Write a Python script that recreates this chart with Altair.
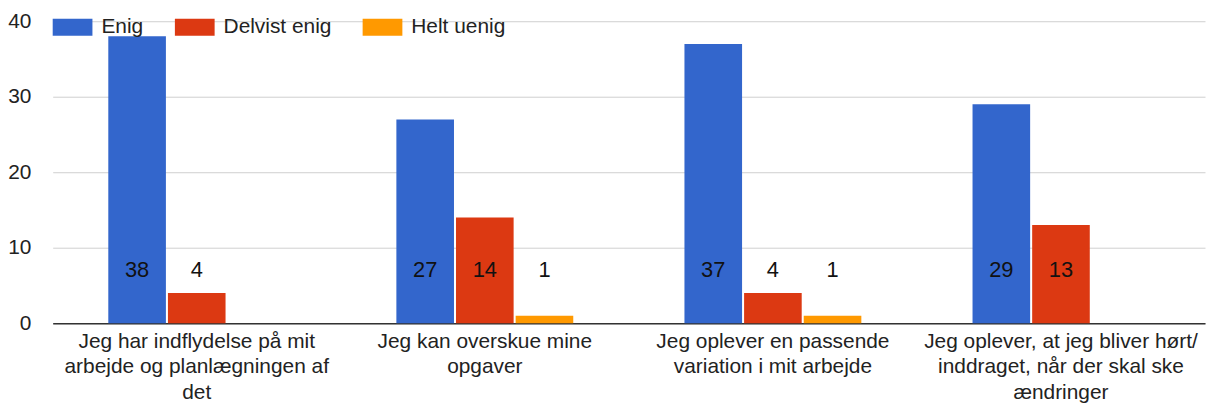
import altair as alt
import pandas as pd

categories = [
    "Jeg har indflydelse på mit|arbejde og planlægningen af|det",
    "Jeg kan overskue mine|opgaver",
    "Jeg oplever en passende|variation i mit arbejde",
    "Jeg oplever, at jeg bliver hørt/|inddraget, når der skal ske|ændringer",
]
series = ["Enig", "Delvist enig", "Helt uenig"]
enig = [38, 27, 37, 29]
delvist_enig = [4, 14, 4, 13]
helt_uenig = [0, 1, 1, 0]
colors = ["#3366cc", "#dc3912", "#ff9900"]

rows = []
for i, c in enumerate(categories):
    for s, vals in zip(series, [enig, delvist_enig, helt_uenig]):
        rows.append({"kategori": c, "svar": s, "antal": vals[i]})
df = pd.DataFrame(rows)

FONT = "Liberation Sans"

x = alt.X(
    "kategori:N",
    sort=categories,
    scale=alt.Scale(paddingInner=0.386, paddingOuter=0.193),
    axis=alt.Axis(
        title=None,
        labelAngle=0,
        labelExpr="split(datum.label, '|')",
        labelLineHeight=26,
        labelFontSize=21,
        labelFont=FONT,
        labelColor="#222222",
        labelPadding=7,
        ticks=False,
        domainColor="#333333",
        domainWidth=1.5,
        labelLimit=400,
    ),
)
xoff = alt.XOffset("svar:N", sort=series, scale=alt.Scale(paddingInner=0.034, paddingOuter=0))

y_axis = alt.Axis(
    title=None,
    values=[0, 5, 10, 15, 20, 25, 30, 35, 40],
    labelExpr="datum.value % 10 == 0 ? datum.label : ''",
    labelFontSize=21,
    labelFont=FONT,
    labelColor="#222222",
    labelPadding=22,
    ticks=False,
    domain=False,
    gridColor={"expr": "datum.value % 10 == 0 ? '#d0d0d0' : '#e8e8e8'"},
)

bars = alt.Chart(df).mark_bar().encode(
    x=x,
    xOffset=xoff,
    y=alt.Y("antal:Q", scale=alt.Scale(domain=[0, 40], nice=False), axis=y_axis),
    color=alt.Color(
        "svar:N",
        sort=series,
        scale=alt.Scale(domain=series, range=colors),
        legend=alt.Legend(
            title=None,
            orient="none",
            legendX=0,
            legendY=-14,
            direction="horizontal",
            symbolType="M-1,-0.43H1V0.43H-1Z",
            symbolSize=1600,
            symbolStrokeWidth=0,
            symbolOpacity=1,
            labelFontSize=21,
            labelFont=FONT,
            labelColor="#222222",
            labelOffset=9,
            columnPadding=31,
            padding=0,
        ),
    ),
)

labels = alt.Chart(df).transform_filter("datum.antal > 0").mark_text(
    fontSize=22, font=FONT, color="#111111", baseline="middle", align="center"
).encode(
    x=alt.X("kategori:N", sort=categories),
    xOffset=alt.XOffset("svar:N", sort=series),
    y=alt.datum(7.0),
    text="antal:Q",
)

chart = (
    alt.layer(bars, labels)
    .properties(
        width=1160,
        height=304,
        autosize=alt.AutoSizeParams(type="none"),
        padding={"left": 45, "top": 12, "right": 2, "bottom": 80},
    )
    .configure_view(stroke=None)
    .configure_axis(gridWidth=1)
)

chart.save("out.html", embed_options={"renderer": "svg", "actions": False})
